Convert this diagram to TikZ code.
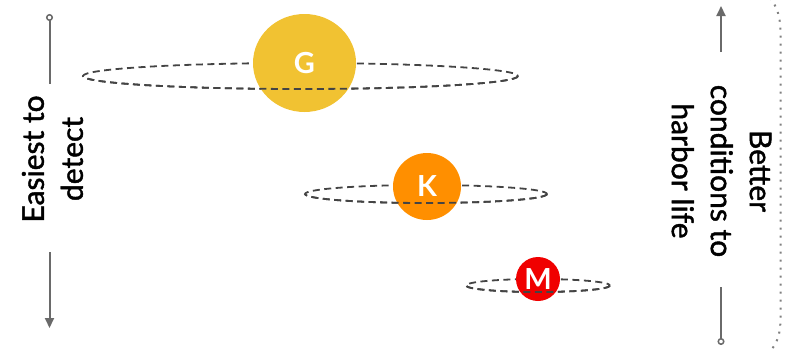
\documentclass[tikz,border=0pt]{standalone}
\usepackage{fontspec}
\setmainfont{Lato}
\newfontfamily\labelfont{Lato}[BoldFont=Lato, BoldFeatures={FakeBold=1.4}]
\usetikzlibrary{shapes.geometric,arrows.meta}
\definecolor{axisgray}{HTML}{6A6A6A}
\definecolor{orbitgray}{HTML}{444444}
\definecolor{gstar}{HTML}{F1C232}
\definecolor{kstar}{HTML}{FF8F00}
\definecolor{mstar}{HTML}{F00000}
\tikzset{
  axisline/.style={draw=axisgray, line width=2pt},
  axislabel/.style={font=\labelfont\bfseries\fontsize{30}{39}\selectfont, align=center, inner sep=0pt},
  orbit/.style={draw=orbitgray, line width=1.8pt, dash pattern=on 7pt off 4.5pt},
  starbody/.style={ellipse, draw=none, inner sep=0pt, text=white,
    font=\bfseries\fontsize{29}{29}\selectfont},
  rim/.style={draw=axisgray!85, line width=2pt, dash pattern=on 2pt off 6pt, line cap=butt}
}
\begin{document}
\begin{tikzpicture}[x=1pt, y=-1pt]
  \useasboundingbox (0,0) rectangle (794,348);

  % dotted rim on the right-hand side
  \draw[rim] (770,-2) .. controls (778,8) and (780.5,18) .. (780.5,34)
    -- (780.5,318) .. controls (780.5,332) and (778,342) .. (771,350);

  % back halves of the orbits
  \draw[orbit] (300.5,76) ellipse [x radius=217.5, y radius=13];
  \draw[orbit] (426,194) ellipse [x radius=121, y radius=9];
  \draw[orbit] (538,285.5) ellipse [x radius=72, y radius=6.5];

  % the stars
  \node[starbody, fill=gstar, minimum width=103pt, minimum height=98pt] (G) at (304.5,63) {G};
  \node[starbody, fill=kstar, minimum width=68pt, minimum height=67pt] (K) at (427,186.5) {K};
  \node[starbody, fill=mstar, minimum width=44pt, minimum height=44pt] (M) at (538,279) {M};

  % front halves of the orbits, passing in front of the stars
  \begin{scope}
    \clip (80,76) rectangle (522,92);
    \draw[orbit] (300.5,76) ellipse [x radius=217.5, y radius=13];
  \end{scope}
  \begin{scope}
    \clip (300,194) rectangle (552,206);
    \draw[orbit] (426,194) ellipse [x radius=121, y radius=9];
  \end{scope}
  \begin{scope}
    \clip (460,285.5) rectangle (615,295);
    \draw[orbit] (538,285.5) ellipse [x radius=72, y radius=6.5];
  \end{scope}

  % left axis: detection
  \node[axislabel, rotate=90] (detect) at (52.5,159) {Easiest to\\detect};
  \coordinate (ltop) at (49.5,14);
  \coordinate (lupper) at (49.5,84);
  \coordinate (llower) at (49.5,252);
  \coordinate (ltip) at (49.5,328);
  \draw[axisline, {Circle[open, length=7pt, line width=1.5pt]}-] (ltop) -- (lupper);
  \draw[axisline, -{Triangle[length=10pt, width=9pt]}] (llower) -- (ltip);

  % right axis: habitability
  \node[axislabel, rotate=-90] (habit) at (721.5,171) {Better\\conditions to\\harbor life};
  \coordinate (rtip) at (721,6);
  \coordinate (rupper) at (721,52);
  \coordinate (rlower) at (721,287);
  \coordinate (rbot) at (721,345);
  \draw[axisline, -{Triangle[length=10pt, width=9pt]}] (rupper) -- (rtip);
  \draw[axisline, -{Circle[open, length=7pt, line width=1.5pt]}] (rlower) -- (rbot);
\end{tikzpicture}
\end{document}
